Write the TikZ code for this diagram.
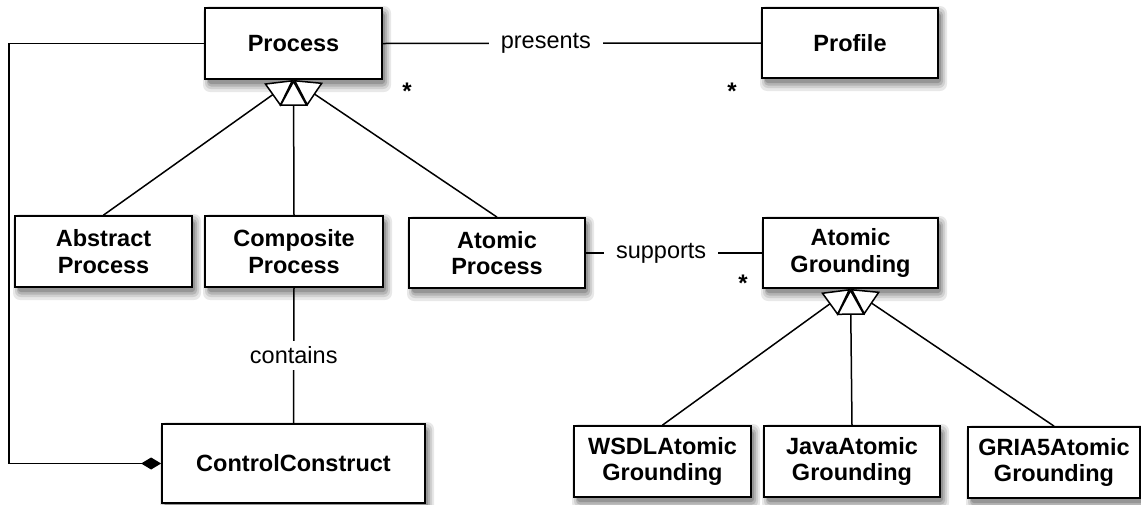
\documentclass[tikz,border=0pt]{standalone}
\usepackage{fontspec}
\setmainfont{Liberation Sans}
\usetikzlibrary{arrows.meta}
\definecolor{shA}{RGB}{232,232,232}
\definecolor{shB}{RGB}{208,208,208}
\definecolor{shC}{RGB}{180,180,180}
\definecolor{shD}{RGB}{150,150,150}
\tikzset{
  cls/.style={draw=black, line width=1.8pt, fill=white, align=center,
    minimum width=177pt, minimum height=71pt, inner sep=2pt,
    font=\fontsize{23.5}{26.5}\selectfont\bfseries},
  link/.style={line width=1.5pt, draw=black},
  gen/.style={link, -{Triangle[length=26pt, width=28pt, fill=white, line width=1.5pt]}},
  lbl/.style={fill=white, inner xsep=12pt, inner ysep=4pt, font=\fontsize{23.5}{26.5}\selectfont},
  mult/.style={inner sep=0pt, font=\fontsize{24}{26}\selectfont\bfseries}
}
% class box: soft shadow first, then the box itself
% #1 name, #2 x, #3 y, #4 width, #5 height, #6 text
\newcommand{\classbox}[6]{%
  \fill[shA, rounded corners=7pt] ({#2-#4/2-2},{#3-#5/2-2}) rectangle ({#2+#4/2+9},{#3+#5/2+13});
  \fill[shB, rounded corners=6pt] ({#2-#4/2},{#3-#5/2}) rectangle ({#2+#4/2+7},{#3+#5/2+10});
  \fill[shC, rounded corners=4pt] ({#2-#4/2+2},{#3-#5/2+3}) rectangle ({#2+#4/2+5},{#3+#5/2+7.5});
  \fill[shD, rounded corners=3pt] ({#2-#4/2+3},{#3-#5/2+5}) rectangle ({#2+#4/2+3},{#3+#5/2+5});
  \node[cls, minimum width=#4pt, minimum height=#5pt] (#1) at (#2,#3) {#6};}
\begin{document}
\begin{tikzpicture}[x=1pt, y=-1pt]
\useasboundingbox (0,0) rectangle (1141,504);

% classes
\classbox{proc}{293.5}{43.5}{177}{71}{Process}
\classbox{prof}{850}{43}{176}{70}{Profile}
\classbox{abs}{103.5}{251.5}{177}{71}{Abstract\\Process}
\classbox{comp}{294}{251.5}{178}{71}{Composite\\Process}
\classbox{atom}{497}{253}{176}{70}{Atomic\\Process}
\classbox{ag}{850.5}{253}{175}{70}{Atomic\\Grounding}
\classbox{cc}{293.5}{463.5}{263}{79}{ControlConstruct}
\classbox{wsdl}{662.5}{461.5}{177}{71}{WSDLAtomic\\Grounding}
\classbox{java}{852}{461.5}{176}{71}{JavaAtomic\\Grounding}
\classbox{gria}{1054}{462.5}{172}{71}{GRIA5Atomic\\Grounding}

% associations
\draw[link] (proc.east) -- node[lbl, pos=0.431] {presents} (prof.west);
\draw[link] (atom.east) -- node[lbl, pos=0.427] {supports} (ag.west);
\draw[link] (comp.south) -- node[lbl, pos=0.5, inner ysep=6pt] {contains} (cc.north);

% composition of control constructs
\coordinate (lt) at (9,43.5);
\coordinate (lb) at (9,463.5);
\draw[link, -{Diamond[length=20pt, width=12pt, fill=black]}]
  (proc.west) -- (lt) -- (lb) -- (cc.west);

% generalisations
\draw[gen] (abs.north) -- (proc.south);
\draw[gen] (atom.north) -- (proc.south);
\draw[gen] (comp.north) -- (proc.south);
\draw[gen] (wsdl.north) -- (ag.south);
\draw[gen] (gria.north) -- (ag.south);
\draw[gen] (java.north) -- (ag.south);

% multiplicities
\node[mult] (m1) at (407,91) {*};
\node[mult] (m2) at (732,91) {*};
\node[mult] (m3) at (743,283) {*};
\end{tikzpicture}
\end{document}
